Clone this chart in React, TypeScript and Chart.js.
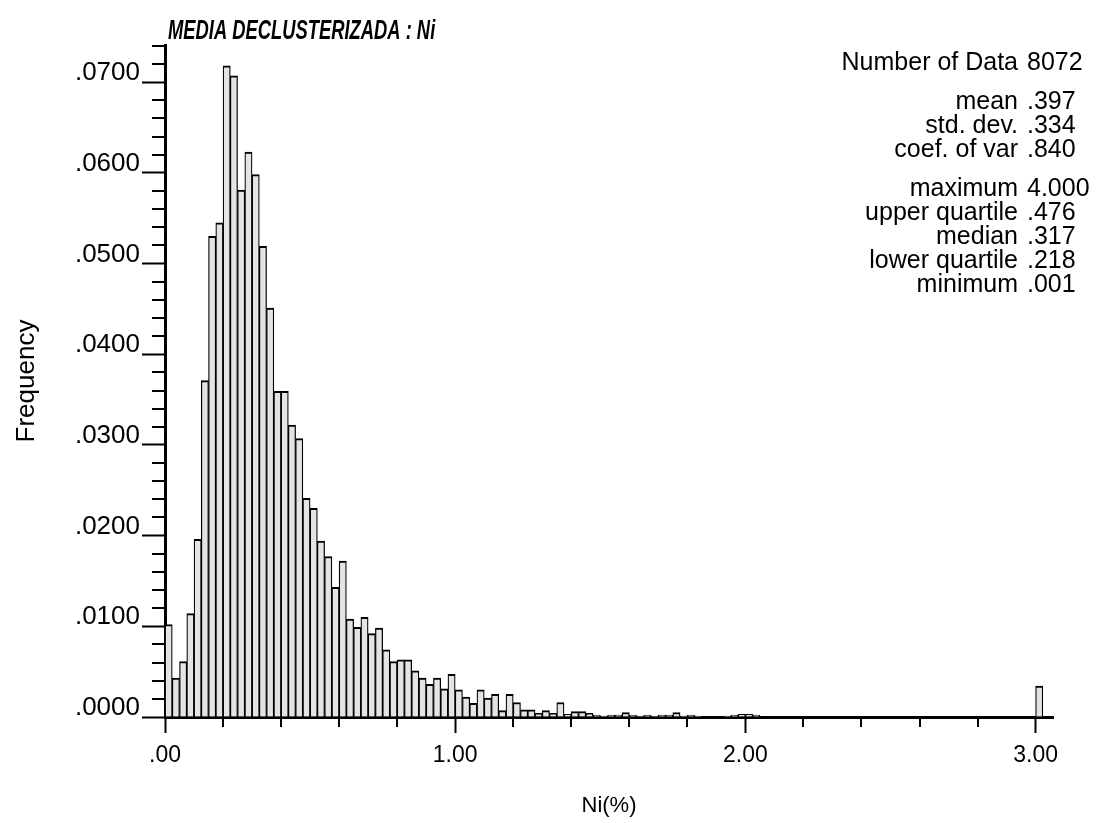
import { useEffect, useRef } from 'react';
import { Chart, registerables } from 'chart.js';

Chart.register(...registerables);

// Histogram class width (Ni %)
const binWidth = 0.025;

// Declustered frequency per class, starting at 0.00
const frequencies: number[] = [
  0.0102, 0.0043, 0.0061, 0.0114, 0.0196, 0.0371, 0.0530, 0.0545, 0.0718, 0.0707,
  0.0581, 0.0623, 0.0598, 0.0519, 0.0451, 0.0359, 0.0359, 0.0322, 0.0307, 0.0241,
  0.0230, 0.0194, 0.0177, 0.0143, 0.0172, 0.0108, 0.0099, 0.0110, 0.0092, 0.0098,
  0.0074, 0.0061, 0.0063, 0.0063, 0.0051, 0.0043, 0.0036, 0.0043, 0.0031, 0.0047,
  0.0030, 0.0022, 0.0015, 0.0030, 0.0021, 0.0025, 0.0007, 0.0025, 0.0016, 0.0008,
  0.0008, 0.0004, 0.0007, 0.0004, 0.0016, 0.0003, 0.0006, 0.0006, 0.0004, 0.0002,
  0.0001, 0.0002, 0.0002, 0.0005, 0.0002, 0.0001, 0.0002, 0.0001, 0.0002, 0.0002,
  0.0005, 0.0001, 0.0002, 0.0001, 0, 0, 0, 0.0001, 0.0002, 0.0003,
  0.0003, 0.0002,
];

// Values at and above 3.00 are collected in the last class
const lastClassStart = 3.0;
const lastClassFrequency = 0.0034;

const xMajorStep = 1;
const xMinorStep = 0.2;
const yMajorStep = 0.01;
const yMinorStep = 0.002;

const chartTitle = 'MEDIA DECLUSTERIZADA : Ni';
const xTitle = 'Ni(%)';
const yTitle = 'Frequency';

const statLabels = [
  'Number of Data',
  'mean',
  'std. dev.',
  'coef. of var',
  'maximum',
  'upper quartile',
  'median',
  'lower quartile',
  'minimum',
];
const statValues = ['8072', '.397', '.334', '.840', '4.000', '.476', '.317', '.218', '.001'];
const statGroups = [0, 1, 1, 1, 2, 2, 2, 2, 2];

const FONT = '"Liberation Sans", Arial, Helvetica, sans-serif';

const stripLeadingZero = (s: string) => s.replace(/^0\./, '.');

const minorTicksPlugin = {
  id: 'minorTicks',
  afterDraw(chart: any) {
    const { ctx } = chart;
    const x = chart.scales.x;
    const y = chart.scales.y;
    ctx.save();
    ctx.strokeStyle = '#000';
    ctx.lineWidth = 2;
    ctx.beginPath();
    for (let k = 1; k * xMinorStep <= x.max + 1e-9; k++) {
      if (k % Math.round(xMajorStep / xMinorStep) === 0) continue;
      const px = Math.round(x.getPixelForValue(k * xMinorStep));
      ctx.moveTo(px, x.top);
      ctx.lineTo(px, x.top + 10);
    }
    for (let k = 1; k * yMinorStep <= y.max + 1e-9; k++) {
      if (k % Math.round(yMajorStep / yMinorStep) === 0) continue;
      const py = Math.round(y.getPixelForValue(k * yMinorStep));
      ctx.moveTo(y.right - 13, py);
      ctx.lineTo(y.right, py);
    }
    ctx.stroke();
    ctx.restore();
  },
};

const textPlugin = {
  id: 'histText',
  afterDraw(chart: any) {
    const { ctx, chartArea } = chart;
    ctx.save();
    ctx.fillStyle = '#000';
    ctx.textBaseline = 'middle';

    // title, condensed bold italic
    ctx.save();
    ctx.font = `italic bold 27px ${FONT}`;
    ctx.translate(chartArea.left + 3, 32);
    ctx.scale(0.68, 1);
    ctx.textAlign = 'left';
    ctx.fillText(chartTitle, 0, 0);
    ctx.restore();

    // summary statistics
    ctx.font = `25px ${FONT}`;
    const labelRight = 1018;
    const valueLeft = 1027;
    statLabels.forEach((label, i) => {
      const yy = 63 + i * 24 + statGroups[i] * 15;
      ctx.textAlign = 'right';
      ctx.fillText(label, labelRight, yy);
      ctx.textAlign = 'left';
      ctx.fillText(statValues[i], valueLeft, yy);
    });
    ctx.restore();
  },
};

export default function App() {
  const canvasRef = useRef<HTMLCanvasElement | null>(null);

  useEffect(() => {
    document.body.style.margin = '0';
    const canvas = canvasRef.current;
    if (!canvas) return;

    const points = frequencies.map((f, i) => ({ x: (i + 0.5) * binWidth, y: f }));
    points.push({ x: lastClassStart + binWidth / 2, y: lastClassFrequency });

    const chart = new Chart(canvas, {
      type: 'bar',
      data: {
        datasets: [
          {
            data: points as any,
            backgroundColor: '#e4e4e4',
            borderColor: '#000',
            borderWidth: { top: 2, left: 1.25, right: 1.25, bottom: 0 },
            borderSkipped: false,
            barPercentage: 1,
            categoryPercentage: 1,
          },
        ],
      },
      options: {
        responsive: false,
        animation: false,
        layout: { padding: { top: 45, right: 52, left: 0, bottom: 0 } },
        plugins: {
          legend: { display: false },
          tooltip: { enabled: false },
        },
        scales: {
          x: {
            type: 'linear',
            min: 0,
            max: 3.06,
            offset: false,
            grid: {
              display: true,
              drawOnChartArea: false,
              offset: false,
              tickLength: 16,
              tickWidth: 2,
              tickColor: '#000',
            },
            border: { display: true, width: 3, color: '#000' },
            ticks: {
              stepSize: xMajorStep,
              includeBounds: false,
              maxRotation: 0,
              autoSkip: false,
              padding: 9,
              color: '#000',
              font: { family: FONT, size: 23 },
              callback: (v: any) => stripLeadingZero(Number(v).toFixed(2)),
            },
            title: {
              display: true,
              text: xTitle,
              color: '#000',
              font: { family: FONT, size: 22 },
              padding: { top: 0, bottom: 4 },
            },
            afterFit: (s: any) => {
              s.height = 106;
            },
          },
          y: {
            type: 'linear',
            min: 0,
            max: 0.0741,
            grid: {
              display: true,
              drawOnChartArea: false,
              tickLength: 23,
              tickWidth: 2,
              tickColor: '#000',
            },
            border: { display: true, width: 3, color: '#000' },
            ticks: {
              stepSize: yMajorStep,
              includeBounds: false,
              autoSkip: false,
              padding: 2,
              labelOffset: -9,
              color: '#000',
              font: { family: FONT, size: 26 },
              callback: (v: any) => stripLeadingZero(Number(v).toFixed(4)),
            },
            title: {
              display: true,
              text: yTitle,
              color: '#000',
              font: { family: FONT, size: 26 },
              padding: { top: 11, bottom: 0 },
            },
            afterFit: (s: any) => {
              s.width = 165;
            },
          },
        },
      },
      plugins: [minorTicksPlugin, textPlugin],
    });

    return () => chart.destroy();
  }, []);

  return (
    <div style={{ width: 1105, height: 823 }}>
      <canvas ref={canvasRef} width={1105} height={823} style={{ display: 'block' }} />
    </div>
  );
}
